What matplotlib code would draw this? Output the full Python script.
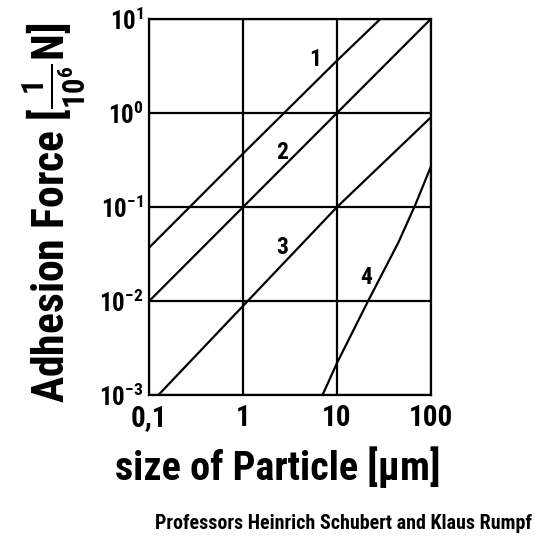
import matplotlib
matplotlib.use("Agg")
import matplotlib.pyplot as plt

# curves (particle size in um, force in 1e-6 N)
x1 = [0.1, 1, 10, 29]
y1 = [0.037, 0.37, 3.6, 10]
x2 = [0.1, 1, 10, 100]
y2 = [0.01, 0.1, 1, 10]
x3 = [0.125, 1, 10, 100]
y3 = [0.001, 0.0089, 0.1, 0.9]
x4 = [7.0, 10, 21.4, 45, 68, 100]
y4 = [0.001, 0.0022, 0.01, 0.042, 0.105, 0.27]

curve_labels = ["1", "2", "3", "4"]
label_x = [5.9, 2.6, 2.6, 20.3]
label_y = [3.7, 0.38, 0.037, 0.018]

x_ticks = [0.1, 1, 10, 100]
x_tick_labels = ["0,1", "1", "10", "100"]
y_ticks = [1e-3, 1e-2, 1e-1, 1e0, 1e1]
y_tick_labels = [r"$\mathbf{10^{-3}}$", r"$\mathbf{10^{-2}}$", r"$\mathbf{10^{-1}}$",
                 r"$\mathbf{10^{0}}$", r"$\mathbf{10^{1}}$"]

fam = ["Roboto Condensed", "DejaVu Sans"]
plt.rcParams["font.family"] = fam
plt.rcParams["font.weight"] = "bold"
plt.rcParams["mathtext.fontset"] = "custom"
plt.rcParams["mathtext.rm"] = "Roboto Condensed:bold"
plt.rcParams["mathtext.bf"] = "Roboto Condensed:bold"
plt.rcParams["mathtext.it"] = "Roboto Condensed:bold"

fig = plt.figure(figsize=(5.4, 5.4), dpi=100)
ax = fig.add_axes([0.276, 0.268, 0.522, 0.697])

for xs, ys in [(x1, y1), (x2, y2), (x3, y3), (x4, y4)]:
    ax.plot(xs, ys, color="black", lw=1.6, solid_capstyle="butt")

for t, lx, ly in zip(curve_labels, label_x, label_y):
    ax.text(lx, ly, t, fontsize=17, fontweight="bold", ha="center", va="center")

ax.set_xscale("log")
ax.set_yscale("log")
ax.set_xlim(0.1, 100)
ax.set_ylim(1e-3, 10)
ax.set_xticks(x_ticks)
ax.set_xticklabels(x_tick_labels, fontsize=21, fontweight="bold")
ax.set_yticks(y_ticks)
ax.set_yticklabels(y_tick_labels, fontsize=18)
ax.minorticks_off()
ax.tick_params(length=0)
ax.tick_params(axis="x", pad=6)
ax.tick_params(axis="y", pad=4)
ax.grid(True, color="black", lw=1.6)
for s in ax.spines.values():
    s.set_linewidth(1.6)

fig.text(0.514, 0.135, "size of Particle [µm]", fontsize=29, fontweight="bold",
         ha="center", va="center")
fig.text(0.100, 0.606, r"Adhesion Force [$\mathbf{\frac{1}{10^6}}$N]", fontsize=31.5,
         fontweight="bold", rotation=90, ha="center", va="center")

fig.text(0.985, 0.031, "Professors Heinrich Schubert and Klaus Rumpf",
         fontsize=14.4, fontweight="bold", ha="right", va="center")

fig.savefig("out.png", dpi=100)
